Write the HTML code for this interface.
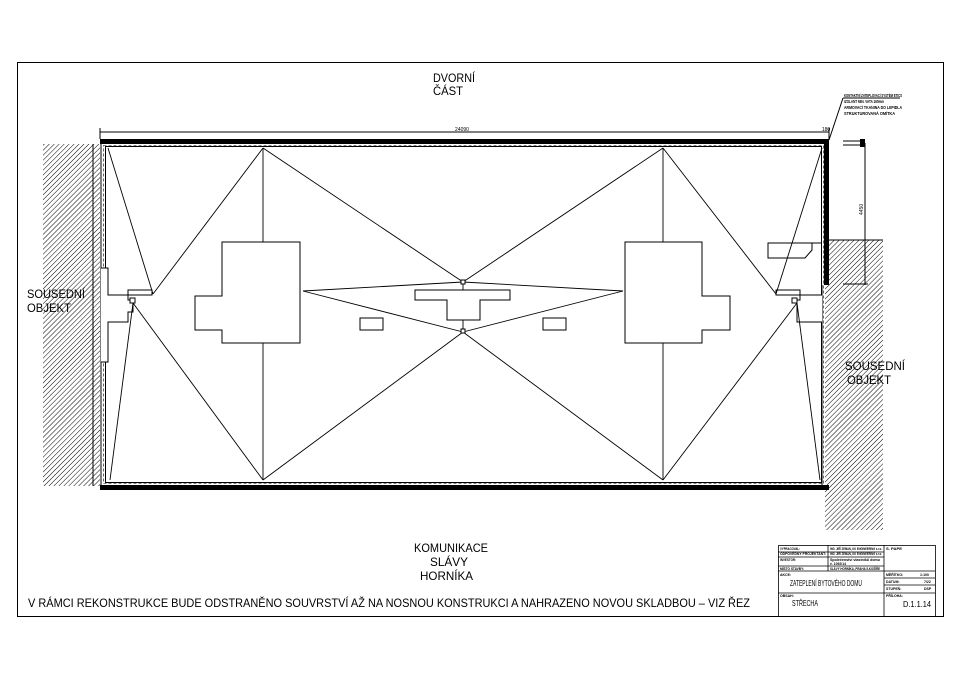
<!DOCTYPE html>
<html><head><meta charset="utf-8"><style>
body{margin:0;background:#fff}
svg{display:block;font-family:"Liberation Sans",sans-serif}
</style></head><body>
<svg width="960" height="678" viewBox="0 0 960 678" xmlns="http://www.w3.org/2000/svg">
<defs>
<pattern id="h" width="3.5" height="3.5" patternUnits="userSpaceOnUse" patternTransform="rotate(45)">
<line x1="0" y1="0" x2="0" y2="3.5" stroke="#000" stroke-width="1"/>
</pattern>
</defs>
<rect x="17.5" y="62.5" width="926" height="554" fill="none" stroke="#000"/>
<rect x="43" y="144" width="57" height="342" fill="url(#h)"/>
<rect x="825" y="240" width="58" height="290" fill="url(#h)"/>
<line x1="825" y1="240" x2="883" y2="240" stroke="#000"/>
<rect x="100" y="139" width="729" height="5" fill="#000"/>
<rect x="100" y="485" width="729" height="5" fill="#000"/>
<rect x="824" y="139" width="5" height="146" fill="#000"/>
<line x1="101" y1="144" x2="101" y2="485" stroke="#000"/>
<rect x="105.5" y="146.5" width="716" height="336" fill="none" stroke="#000"/>
<rect x="103.5" y="145.5" width="720" height="338" fill="none" stroke="#000" stroke-dasharray="3,2" stroke-width="0.6"/>
<line x1="822" y1="285" x2="822" y2="485" stroke="#000"/>
<line x1="100" y1="132" x2="829" y2="132" stroke="#000"/>
<line x1="100" y1="128" x2="100" y2="139" stroke="#000"/>
<line x1="829" y1="128" x2="829" y2="139" stroke="#000"/>
<text x="462" y="131" font-size="5" text-anchor="middle">24090</text>
<text x="826" y="131" font-size="5" text-anchor="middle">180</text>
<line x1="93" y1="144" x2="93" y2="486" stroke="#000"/>
<line x1="843" y1="141" x2="864" y2="141" stroke="#000"/>
<line x1="843" y1="145" x2="864" y2="145" stroke="#000"/>
<rect x="860" y="139" width="5" height="8" fill="#000"/>
<line x1="865" y1="143" x2="865" y2="285" stroke="#000"/>
<line x1="843" y1="284" x2="868" y2="284" stroke="#000"/>
<text x="863" y="215" font-size="5" transform="rotate(-90 863 215)">4450</text>
<line x1="829" y1="140" x2="843" y2="98" stroke="#000"/>
<line x1="843" y1="98" x2="900" y2="98" stroke="#000"/>
<g font-size="4.5" font-weight="bold">
<text x="844" y="97" textLength="58" lengthAdjust="spacingAndGlyphs">KONTAKTNÍ ZATEPLOVACÍ SYSTÉM ETICS</text>
<text x="844" y="103" textLength="40" lengthAdjust="spacingAndGlyphs">IZOLANT MIN. VATA 160mm</text>
<text x="844" y="109" textLength="58" lengthAdjust="spacingAndGlyphs">ARMOVACÍ TKANINA DO LEPIDLA</text>
<text x="844" y="115" textLength="51" lengthAdjust="spacingAndGlyphs">STRUKTUROVANÁ OMÍTKA</text>
</g>
<polyline points="101,268 108,268 108,295 128,295 128,300 133,300 133,312 128,312 128,322 108,322 108,362 101,362" fill="#fff" stroke="#000"/>
<rect x="128" y="290" width="24" height="5" fill="#fff" stroke="#000"/>
<rect x="130" y="298" width="5" height="5" fill="#fff" stroke="#000"/>
<polyline points="822,295 800,295 800,300 797,300 797,322 822,322" fill="#fff" stroke="#000"/>
<rect x="776" y="290" width="24" height="5" fill="#fff" stroke="#000"/>
<rect x="792" y="298" width="5" height="5" fill="#fff" stroke="#000"/>
<polyline points="822,243 768,243 768,258 805,258 812,250 812,243" fill="none" stroke="#000"/>
<g stroke="#000" stroke-width="0.9" fill="none">
<line x1="108" y1="148" x2="153" y2="294"/>
<line x1="263" y1="148" x2="153" y2="294"/>
<line x1="263" y1="148" x2="263" y2="480"/>
<line x1="663" y1="148" x2="663" y2="480"/>
<line x1="263" y1="148" x2="463" y2="282"/>
<line x1="663" y1="148" x2="463" y2="282"/>
<line x1="303" y1="291" x2="463" y2="282"/>
<line x1="303" y1="291" x2="463" y2="332"/>
<line x1="623" y1="291" x2="463" y2="282"/>
<line x1="623" y1="291" x2="463" y2="332"/>
<line x1="263" y1="480" x2="463" y2="332"/>
<line x1="663" y1="480" x2="463" y2="332"/>
<line x1="133" y1="303" x2="110" y2="480"/>
<line x1="133" y1="303" x2="263" y2="480"/>
<line x1="822" y1="148" x2="776" y2="294"/>
<line x1="663" y1="148" x2="776" y2="294"/>
<line x1="797" y1="303" x2="820" y2="480"/>
<line x1="797" y1="303" x2="663" y2="480"/>
<line x1="463" y1="282" x2="463" y2="332"/>
</g>
<rect x="461" y="280" width="4" height="4" fill="#fff" stroke="#000"/>
<rect x="461" y="329" width="4" height="4" fill="#fff" stroke="#000"/>
<g fill="#fff" stroke="#000">
<polygon points="222,242 300,242 300,343 222,343 222,330 195,330 195,296 222,296"/>
<polygon points="625,242 702,242 702,296 730,296 730,330 702,330 702,343 625,343"/>
<polygon points="415,290 510,290 510,300 480,300 480,320 447,320 447,300 415,300"/>
<rect x="360" y="318" width="23" height="12"/>
<rect x="543" y="318" width="23" height="12"/>
</g>
<g font-size="12" lengthAdjust="spacingAndGlyphs">
<text x="433" y="82" textLength="42" lengthAdjust="spacingAndGlyphs">DVORNÍ</text>
<text x="433" y="95" textLength="30" lengthAdjust="spacingAndGlyphs">ČÁST</text>
<text x="27" y="298" textLength="58" lengthAdjust="spacingAndGlyphs">SOUSEDNÍ</text>
<text x="27" y="312" textLength="44" lengthAdjust="spacingAndGlyphs">OBJEKT</text>
<text x="845" y="370" textLength="60" lengthAdjust="spacingAndGlyphs">SOUSEDNÍ</text>
<text x="847" y="384" textLength="44" lengthAdjust="spacingAndGlyphs">OBJEKT</text>
<text x="414" y="552" textLength="74" lengthAdjust="spacingAndGlyphs">KOMUNIKACE</text>
<text x="430" y="566" textLength="38" lengthAdjust="spacingAndGlyphs">SLÁVY</text>
<text x="420" y="580" textLength="53" lengthAdjust="spacingAndGlyphs">HORNÍKA</text>
<text x="28" y="607" textLength="722" lengthAdjust="spacingAndGlyphs">V RÁMCI REKONSTRUKCE BUDE ODSTRANĚNO SOUVRSTVÍ AŽ NA NOSNOU KONSTRUKCI A NAHRAZENO NOVOU SKLADBOU – VIZ ŘEZ</text>
</g>
<g fill="none" stroke="#000" stroke-width="0.8">
<rect x="778.5" y="545.5" width="157" height="71"/>
<line x1="884" y1="545" x2="884" y2="617"/>
<line x1="828" y1="545" x2="828" y2="571"/>
<line x1="778" y1="552" x2="884" y2="552"/>
<line x1="778" y1="557" x2="884" y2="557"/>
<line x1="778" y1="566" x2="884" y2="566"/>
<line x1="778" y1="571" x2="935" y2="571"/>
<line x1="778" y1="593" x2="935" y2="593"/>
<line x1="884" y1="578" x2="935" y2="578"/>
<line x1="884" y1="585" x2="935" y2="585"/>
</g>
<g font-size="3.5" font-weight="bold">
<text x="780" y="550" textLength="20" lengthAdjust="spacingAndGlyphs">VYPRACOVAL:</text><text x="830" y="550" textLength="52" lengthAdjust="spacingAndGlyphs">ING. JIŘÍ ZEMAN, KK ENGINEERING s.r.o.</text>
<text x="780" y="555" textLength="46" lengthAdjust="spacingAndGlyphs">ODPOVĚDNÝ PROJEKTANT:</text><text x="830" y="555" textLength="52" lengthAdjust="spacingAndGlyphs">ING. JIŘÍ ZEMAN, KK ENGINEERING s.r.o.</text>
<text x="780" y="561" textLength="16" lengthAdjust="spacingAndGlyphs">INVESTOR:</text><text x="830" y="561" textLength="50" lengthAdjust="spacingAndGlyphs">Společenství vlastníků domu</text><text x="830" y="565" textLength="16" lengthAdjust="spacingAndGlyphs">č. 1092/14</text>
<text x="780" y="570" textLength="24" lengthAdjust="spacingAndGlyphs">MÍSTO STAVBY:</text><text x="830" y="570" textLength="50" lengthAdjust="spacingAndGlyphs">SLÁVY HORNÍKA, PRAHA 5-KOŠÍŘE</text>
<text x="780" y="576">AKCE:</text><text x="886" y="550" textLength="16" lengthAdjust="spacingAndGlyphs">S. PAPE</text>
<text x="886" y="576">MĚŘÍTKO:</text><text x="920" y="576">1:100</text>
<text x="886" y="583">DATUM:</text><text x="924" y="583">7/22</text>
<text x="886" y="590">STUPEŇ:</text><text x="924" y="590">DSP</text>
<text x="780" y="597">OBSAH:</text><text x="886" y="597">PŘÍLOHA:</text>
</g>
<text x="790" y="586" font-size="8" textLength="72" lengthAdjust="spacingAndGlyphs">ZATEPLENÍ BYTOVÉHO DOMU</text>
<text x="792" y="606" font-size="8" textLength="26" lengthAdjust="spacingAndGlyphs">STŘECHA</text>
<text x="903" y="607" font-size="8" textLength="28" lengthAdjust="spacingAndGlyphs">D.1.1.14</text>
</svg>
</body></html>
